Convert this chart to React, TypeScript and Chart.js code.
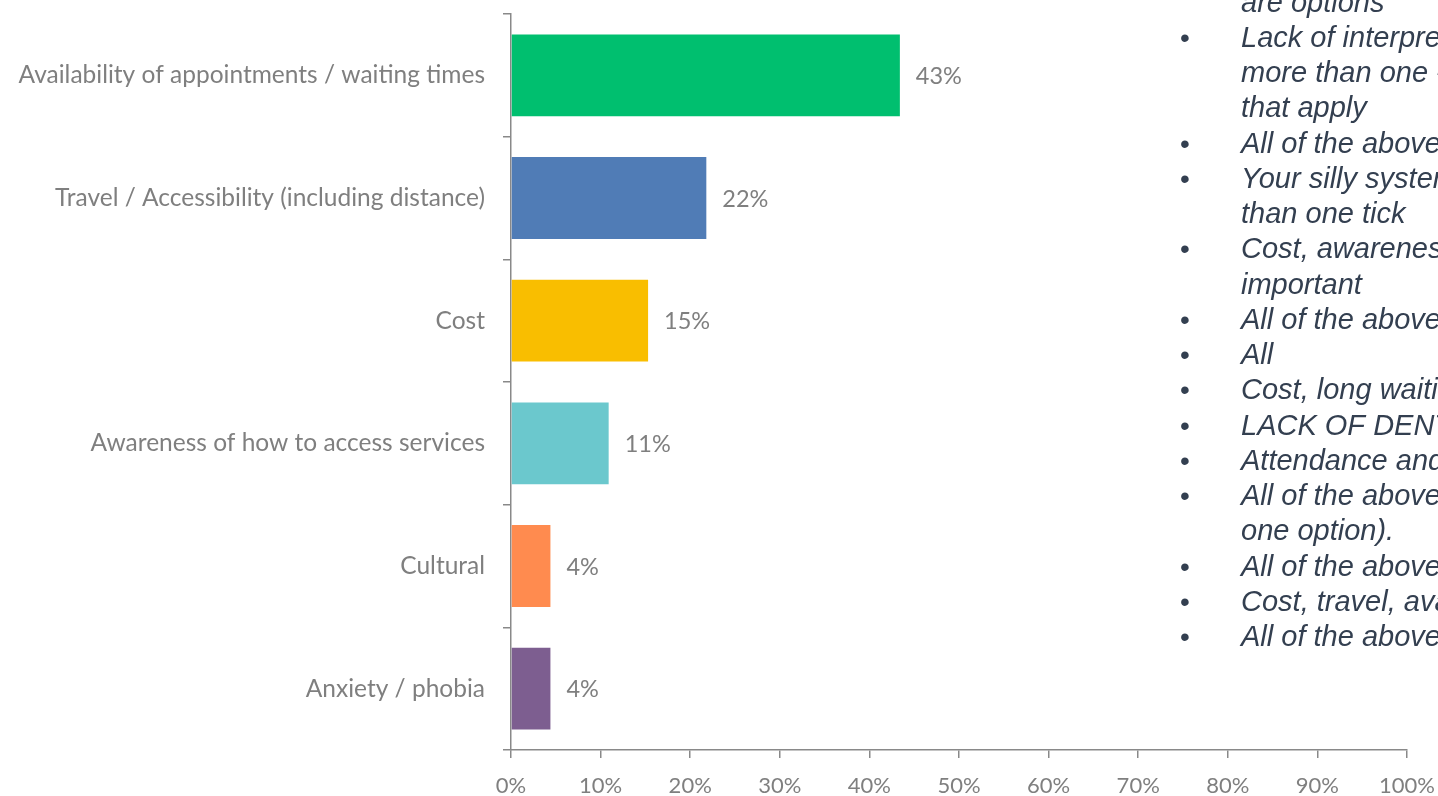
import React, { useEffect, useRef } from "react";
import { Chart, registerables } from "chart.js";

Chart.register(...registerables);

const categories = [
  "Availability of appointments / waiting times",
  "Travel / Accessibility (including distance)",
  "Cost",
  "Awareness of how to access services",
  "Cultural",
  "Anxiety / phobia",
];
const values = [43.4, 21.8, 15.3, 10.9, 4.4, 4.4];
const barColors = ["#00BF6F", "#507CB6", "#F9BE00", "#6BC8CD", "#FF8B4F", "#7D5E90"];

const noteLines = [
  "are options",
  "Lack of interpreters - I would have ticked",
  "more than one - please tick all",
  "that apply",
  "All of the above",
  "Your silly system won't allow more",
  "than one tick",
  "Cost, awareness and waiting times all",
  "important",
  "All of the above",
  "All",
  "Cost, long waiting times",
  "LACK OF DENTISTS",
  "Attendance and waiting times",
  "All of the above (can only tick",
  "one option).",
  "All of the above",
  "Cost, travel, availability",
  "All of the above",
];
const noteBullets = [
  false, true, false, false, true, true, false, true, false, true,
  true, true, true, true, true, false, true, true, true,
];

const FONT = "Lato";
const GRAY = "#7f7f7f";
const AXIS = "#898989";

const valueLabels = {
  id: "valueLabels",
  afterDatasetsDraw(chart: any) {
    const ctx = chart.ctx;
    const meta = chart.getDatasetMeta(0);
    ctx.save();
    ctx.font = `23.5px ${FONT}`;
    ctx.fillStyle = GRAY;
    ctx.textBaseline = "middle";
    ctx.textAlign = "left";
    meta.data.forEach((el: any, i: number) => {
      ctx.fillText(Math.round(values[i]) + "%", el.x + 16, el.y + 1);
    });
    ctx.restore();
  },
};

const notes = {
  id: "notes",
  afterDraw(chart: any) {
    const ctx = chart.ctx;
    ctx.save();
    ctx.fillStyle = "#333f50";
    ctx.textBaseline = "alphabetic";
    noteLines.forEach((t, i) => {
      const base = 1.5 + 35.25 * i + 10;
      if (noteBullets[i]) {
        ctx.font = `28px "Liberation Sans"`;
        ctx.textAlign = "center";
        ctx.fillText("\u2022", 1185, base);
      }
      ctx.font = `italic 29px "Liberation Sans"`;
      ctx.textAlign = "left";
      ctx.fillText(t, 1241, base);
    });
    ctx.restore();
  },
};

export default function App() {
  const ref = useRef<HTMLCanvasElement>(null);
  useEffect(() => {
    if (!ref.current) return;
    const chart = new Chart(ref.current, {
      type: "bar",
      data: {
        labels: categories,
        datasets: [
          {
            data: values,
            backgroundColor: barColors,
            borderWidth: 0,
            categoryPercentage: 1,
            barPercentage: 0.667,
          },
        ],
      },
      options: {
        indexAxis: "y",
        animation: false,
        responsive: true,
        maintainAspectRatio: false,
        layout: { padding: { top: 14, right: 31, left: 0, bottom: 0 } },
        plugins: { legend: { display: false }, tooltip: { enabled: false } },
        scales: {
          x: {
            min: 0,
            max: 100,
            ticks: {
              stepSize: 10,
              callback: (v: any) => v + "%",
              font: { family: FONT, size: 22 },
              color: GRAY,
              padding: 15,
              maxRotation: 0,
            },
            grid: { drawOnChartArea: false, tickLength: 8, color: AXIS, lineWidth: 1.5 },
            border: { color: AXIS, width: 1.5 },
            afterFit: (s: any) => {
              s.height = 46;
              s.paddingLeft = 0;
              s.paddingRight = 0;
            },
          },
          y: {
            ticks: {
              font: { family: FONT, size: 24.5 },
              color: GRAY,
              padding: 18,
            },
            grid: { drawOnChartArea: false, tickLength: 8, color: AXIS, lineWidth: 1.5, offset: true },
            border: { color: AXIS, width: 1.5 },
            afterFit: (s: any) => {
              s.width = 511;
              s.paddingTop = 0;
              s.paddingBottom = 0;
            },
          },
        },
      },
      plugins: [valueLabels, notes],
    });
    return () => chart.destroy();
  }, []);
  return (
    <div style={{ position: "fixed", left: 0, top: 0, width: "100vw", height: "100vh", overflow: "hidden", background: "#fff" }}>
      <canvas ref={ref} />
    </div>
  );
}
